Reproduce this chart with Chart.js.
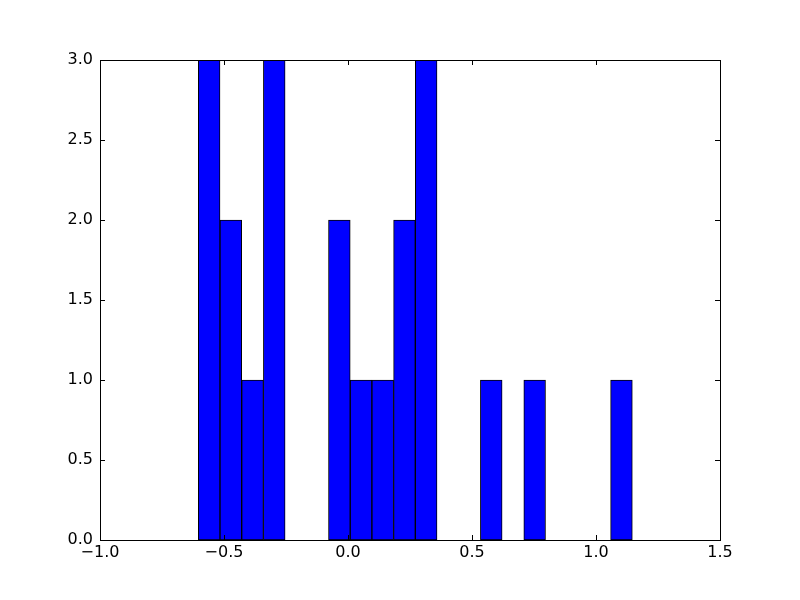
<!DOCTYPE html>
<html>
<head>
<meta charset="utf-8">
<script src="https://cdn.jsdelivr.net/npm/chart.js@4/dist/chart.umd.min.js"></script>
<style>
  html, body { margin: 0; padding: 0; background: #ffffff; }
  #wrap { width: 800px; height: 600px; }
</style>
</head>
<body>
<div id="wrap"><canvas id="histCanvas" width="800" height="600"></canvas></div>
<script>
// Histogram data (20 bins)
const binStart = -0.6036;
const binWidth = 0.0875;
const counts = [3, 2, 1, 3, 0, 0, 2, 1, 1, 2, 3, 0, 0, 1, 0, 1, 0, 0, 0, 1];
const xTicks = [-1.0, -0.5, 0.0, 0.5, 1.0, 1.5];
const yTicks = [0.0, 0.5, 1.0, 1.5, 2.0, 2.5, 3.0];

const barPoints = counts.map((c, i) => ({ x: binStart + binWidth * (i + 0.5), y: c }));

function fmt(v) {
    return v.toFixed(1).replace('-', '\u2212');
}

// Draws the axes frame, inward ticks and tick labels like matplotlib classic
const framePlugin = {
    id: 'frame',
    afterDraw(chart) {
        const ctx = chart.ctx;
        const a = chart.chartArea;
        const xs = chart.scales.x;
        const ys = chart.scales.y;
        const tickLen = 5;
        ctx.save();
        ctx.strokeStyle = '#000000';
        ctx.lineWidth = 1;
        ctx.beginPath();
        xTicks.forEach(v => {
            const px = Math.round(xs.getPixelForValue(v)) + 0.5;
            ctx.moveTo(px, a.bottom); ctx.lineTo(px, a.bottom - tickLen);
            ctx.moveTo(px, a.top); ctx.lineTo(px, a.top + tickLen);
        });
        yTicks.forEach(v => {
            const py = Math.round(ys.getPixelForValue(v)) + 0.5;
            ctx.moveTo(a.left, py); ctx.lineTo(a.left + tickLen, py);
            ctx.moveTo(a.right, py); ctx.lineTo(a.right - tickLen, py);
        });
        ctx.stroke();
        ctx.strokeRect(Math.round(a.left) + 0.5, Math.round(a.top) + 0.5,
                       Math.round(a.right - a.left), Math.round(a.bottom - a.top));

        ctx.fillStyle = '#000000';
        ctx.font = '16px "DejaVu Sans"';
        ctx.textAlign = 'center';
        ctx.textBaseline = 'top';
        xTicks.forEach(v => {
            ctx.fillText(fmt(v), xs.getPixelForValue(v), a.bottom + 5);
        });
        ctx.textAlign = 'right';
        ctx.textBaseline = 'middle';
        yTicks.forEach(v => {
            ctx.fillText(fmt(v), a.left - 7, ys.getPixelForValue(v));
        });
        ctx.restore();
    }
};

new Chart(document.getElementById('histCanvas'), {
    type: 'bar',
    data: {
        datasets: [{
            data: barPoints,
            backgroundColor: '#0000ff',
            borderColor: '#000000',
            borderWidth: 1,
            borderSkipped: false,
            barPercentage: 1.0,
            categoryPercentage: 1.0
        }]
    },
    options: {
        responsive: false,
        animation: false,
        layout: { padding: { left: 100, right: 80, top: 60, bottom: 60 } },
        plugins: {
            legend: { display: false },
            tooltip: { enabled: false }
        },
        scales: {
            x: { type: 'linear', min: -1.0, max: 1.5, display: false, offset: false },
            y: { min: 0, max: 3, display: false }
        }
    },
    plugins: [framePlugin]
});
</script>
</body>
</html>
